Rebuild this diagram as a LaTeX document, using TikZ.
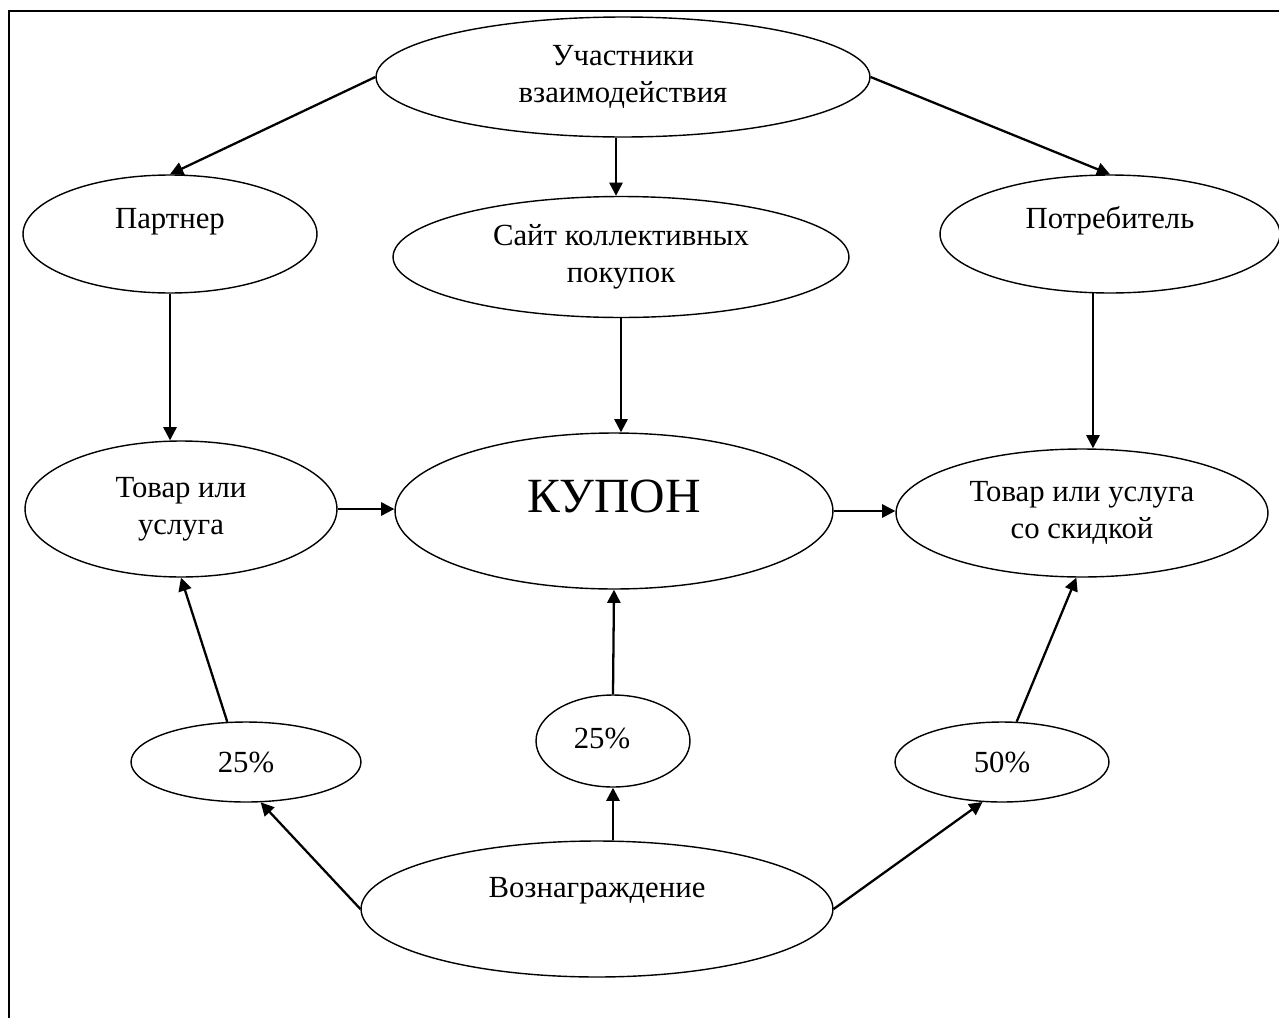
\documentclass[tikz,border=0pt]{standalone}
\usepackage{fontspec}
\setmainfont{Liberation Serif}
\usetikzlibrary{shapes.geometric,arrows.meta}

\begin{document}
\begin{tikzpicture}[x=0.02cm,y=-0.02cm,
    oval/.style={draw,ellipse,line width=.8pt,inner sep=0pt,align=center,
                 font=\fontsize{17.5}{21}\selectfont},
    lbl/.style={font=\fontsize{17.5}{21}\selectfont},
    arr/.style={-{Triangle[length=7.5pt,width=7.5pt]},line width=1.3pt},
    frame/.style={line width=1.3pt}
  ]
    \useasboundingbox (0,0) rectangle (1279,1018);
    \draw[frame] (9,1018) -- (9,11) -- (1279,11);
    % top row
    \node[oval,minimum width=9.88cm,minimum height=2.4cm] (part) at (623,77) {Участники\\взаимодействия};
    \node[oval,minimum width=5.88cm,minimum height=2.36cm,label={[lbl,yshift=.24cm]center:Партнер}] (partner) at (170,234) {};
    \node[oval,minimum width=9.12cm,minimum height=2.42cm] (site) at (621,257) {Сайт коллективных\\покупок};
    \node[oval,minimum width=6.8cm,minimum height=2.36cm,label={[lbl,yshift=.26cm]center:Потребитель}] (consumer) at (1110,234) {};
    % middle row
    \node[oval,minimum width=6.24cm,minimum height=2.72cm] (goods) at (181,509) {Товар или\\услуга};
    \node[oval,minimum width=8.76cm,minimum height=3.12cm,label={[font=\fontsize{28}{32}\selectfont,yshift=.3cm]center:КУПОН}] (kupon) at (614,511) {};
    \node[oval,minimum width=7.44cm,minimum height=2.56cm] (discount) at (1082,513) {Товар или услуга\\со скидкой};
    % shares
    \node[oval,minimum width=4.6cm,minimum height=1.6cm] (pctA) at (246,762) {25\%};
    \node[oval,minimum width=3.08cm,minimum height=1.84cm,label={[lbl,xshift=-.22cm,yshift=.06cm]center:25\%}] (pctB) at (613,741) {};
    \node[oval,minimum width=4.28cm,minimum height=1.6cm] (pctC) at (1002,762) {50\%};
    \node[oval,minimum width=9.44cm,minimum height=2.72cm,label={[lbl,yshift=.36cm]center:Вознаграждение}] (reward) at (597,909) {};
    % connectors
    \draw[arr] (part.west) -- (partner.north); \draw[arr] ([xshift=-.1cm]part.south -| site.north) -- ([xshift=-.1cm]site.north); \draw[arr] (part.east) -- (consumer.north);
    \draw[arr] (partner.south) -- (partner.south |- goods.north); \draw[arr] (site.south) -- (site.south |- kupon.north);
    \draw[arr] (consumer.254) -- (consumer.254 |- discount.north);
    \draw[arr] (goods.east) -- (goods.east -| kupon.west); \draw[arr] (kupon.east) -- (kupon.east -| discount.west);
    \draw[arr] (pctA.115) -- (goods.south); \draw[arr] (pctB.north) -- (kupon.south); \draw[arr] (pctC.70) -- (discount.265);
    \draw[arr] (reward.west) -- (pctA.290); \draw[arr] (reward.north -| pctB.south) -- (pctB.south); \draw[arr] (reward.east) -- (pctC.244);
\end{tikzpicture}
\end{document}
